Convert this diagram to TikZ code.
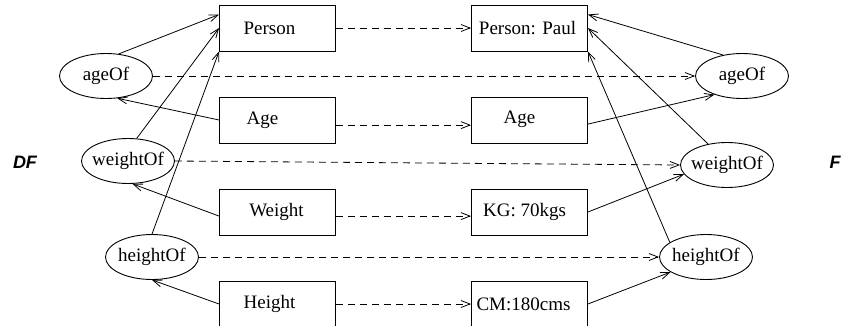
\documentclass[tikz,border=0pt]{standalone}
\usepackage{fontspec}
\setmainfont{Liberation Serif}
\setsansfont{Liberation Sans}
\usetikzlibrary{shapes.geometric,arrows.meta}
\newcommand\boxtxt[3]{\makebox[0pt]{\hspace*{#1pt}\hspace*{#1pt}\raisebox{#2pt}{#3}}}
\begin{document}
\begin{tikzpicture}[x=1pt,y=-1pt,
  every node/.style={font=\fontsize{19}{22}\selectfont},
  cls/.style={draw,rectangle,minimum width=116pt,minimum height=46pt,inner sep=0pt,line width=0.9pt},
  rel/.style={draw,ellipse,minimum width=93pt,minimum height=45pt,inner sep=0pt,line width=0.9pt},
  side/.style={font=\fontsize{18}{20}\selectfont\sffamily\bfseries\itshape},
  arr/.style={line width=0.8pt,-{Straight Barb[length=9pt,width=7pt]}},
  map/.style={arr,dash pattern=on 7pt off 5pt}]
\useasboundingbox (0,0) rectangle (841,325);
% left classes
\node[cls] (PersonL) at (277.5,28) {\boxtxt{-8}{0}{Person}};
\node[cls] (AgeL) at (277.5,120) {\boxtxt{-15}{0}{Age}};
\node[cls] (WeightL) at (277.5,212) {\boxtxt{-1}{0}{Weight}};
\node[cls] (HeightL) at (277.5,304) {\boxtxt{-8}{3}{Height}};
% right instances
\node[cls] (PersonR) at (529.5,28) {\boxtxt{-2}{0}{Person: Paul}};
\node[cls] (AgeR) at (529.5,120) {\boxtxt{-10}{5}{Age}};
\node[cls] (KG) at (529.5,212) {\boxtxt{-5}{4}{KG: 70kgs}};
\node[cls] (CM) at (529.5,304) {\boxtxt{-6}{0}{CM:180cms}};
% left relations
\node[rel] (ageOfL) at (106,76) {\makebox[0pt]{ageOf}};
\node[rel] (weightOfL) at (128,161) {\makebox[0pt]{weightOf}};
\node[rel] (heightOfL) at (152,257) {\makebox[0pt]{heightOf}};
% right relations
\node[rel] (ageOfR) at (742,76) {\makebox[0pt]{ageOf}};
\node[rel] (weightOfR) at (727,165) {\makebox[0pt]{weightOf}};
\node[rel] (heightOfR) at (706,257) {\makebox[0pt]{heightOf}};
% side labels
\node[side] (DF) at (25,162) {DF};
\node[side] (F) at (835,162) {F};
% left structure
\draw[arr] (ageOfL.60) -- (PersonL.167);
\draw[arr] (weightOfL.69) -- (PersonL.west);
\draw[arr] (heightOfL.north) -- (PersonL.south west);
\draw[arr] (AgeL.west) -- (ageOfL.-63);
\draw[arr] (WeightL.184) -- (weightOfL.-79);
\draw[arr] (HeightL.west) -- (heightOfL.south);
% right structure
\draw[arr] (ageOfR.132) -- (PersonR.13);
\draw[arr] (weightOfR.132) -- (PersonR.east);
\draw[arr] (heightOfR.158) -- (PersonR.south east);
\draw[arr] (AgeR.-4) -- (ageOfR.214);
\draw[arr] (KG.east) -- (weightOfR.192);
\draw[arr] (CM.east) -- (heightOfR.203);
% mappings
\draw[map] (PersonL.east) -- (PersonR.west);
\draw[map] (ageOfL.east) -- (ageOfR.west);
\draw[map] (AgeL.-5) -- (AgeR.185);
\draw[map] (weightOfL.east) -- (weightOfR.west);
\draw[map] (WeightL.-4) -- (KG.184);
\draw[map] (heightOfL.east) -- (heightOfR.west);
\draw[map] (HeightL.east) -- (CM.west);
\end{tikzpicture}
\end{document}
